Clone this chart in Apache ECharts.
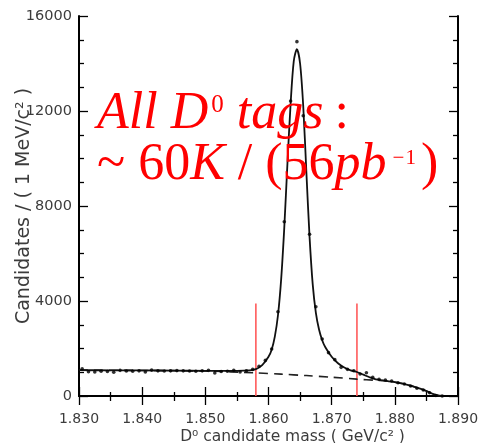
<!DOCTYPE html>
<html>
<head>
<meta charset="utf-8">
<script src="https://cdn.jsdelivr.net/npm/echarts@6/dist/echarts.min.js"></script>
<style>
html,body{margin:0;padding:0;background:#fff;}
#chart{width:481px;height:443px;}
</style>
</head>
<body>
<div id="chart"></div>
<script>
// ---- data ----
var massBins = [1.8305,1.8315,1.8325,1.8335,1.8345,1.8355,1.8365,1.8375,1.8385,1.8395,
                1.8405,1.8415,1.8425,1.8435,1.8445,1.8455,1.8465,1.8475,1.8485,1.8495,
                1.8505,1.8515,1.8525,1.8535,1.8545,1.8555,1.8565,1.8575,1.8585,1.8595,
                1.8605,1.8615,1.8625,1.8635,1.8645,1.8655,1.8665,1.8675,1.8685,1.8695,
                1.8705,1.8715,1.8725,1.8735,1.8745,1.8755,1.8765,1.8775,1.8785,1.8795,
                1.8805,1.8815,1.8825,1.8835,1.8845,1.8855,1.8865,1.8875];
var candidates = [1150,1020,1010,1040,1030,1000,1080,1050,1040,1060,
                  1010,1090,1060,1050,1060,1070,1060,1050,1040,1060,
                  1080,970,1030,1040,1080,1010,1060,1120,1250,1500,
                  1980,3550,7340,12420,14920,11800,6810,3760,2400,1825,
                  1530,1207,1123,1066,926,982,786,703,674,632,
                  561,505,421,324,253,139,20,0];

var fitMass = [1.830,1.835,1.840,1.845,1.850,1.855,1.857,1.858,1.859,1.860,
               1.8605,1.861,1.8615,1.862,1.8625,1.863,1.8635,1.864,1.8645,1.865,
               1.8655,1.866,1.8665,1.867,1.8675,1.868,1.8685,1.869,1.870,1.871,
               1.872,1.873,1.874,1.875,1.876,1.877,1.878,1.880,1.882,1.884,
               1.885,1.886,1.8868,1.8875];
var fitValues = [1090,1080,1075,1070,1060,1060,1080,1130,1300,1650,
                 1950,2500,3400,4900,7100,9800,12300,14100,14600,14000,
                 12200,9400,6700,4700,3500,2800,2350,2050,1650,1380,
                 1200,1080,1010,900,790,700,660,580,470,310,
                 210,90,25,0];

var bkgMass = [1.830,1.840,1.850,1.858,1.862,1.866,1.870,1.874,1.877,1.878,1.880,1.882,1.884,1.885,1.886,1.8868,1.8875];
var bkgValues = [1090,1075,1050,975,920,860,790,710,660,650,580,470,310,210,90,25,0];

var cutMass = [1.858, 1.874];
var cutTop = 3900;

var xTickLabels = ['1.830','1.840','1.850','1.860','1.870','1.880','1.890'];
var yTickLabels = ['0','4000','8000','12000','16000'];

// ---- build ----
function pairs(xs, ys){ return xs.map(function(x,i){ return [x, ys[i]]; }); }
var cutLines = [];
cutMass.forEach(function(m){ cutLines.push([m,0]); cutLines.push([m,cutTop]); cutLines.push(null); });

var axisFont = 'DejaVu Sans';
var textCol = '#3c3c3c';
var red = '#ff0000';

var chart = echarts.init(document.getElementById('chart'), null, {renderer:'canvas'});
chart.setOption({
  animation:false,
  backgroundColor:'#ffffff',
  grid:{left:79,right:23,top:16,bottom:47,containLabel:false,outerBoundsMode:'none'},
  xAxis:[{
    type:'value', min:1.83, max:1.89, interval:0.01,
    position:'bottom',
    axisLine:{show:true,lineStyle:{color:'#000',width:2}},
    axisTick:{show:true,inside:true,length:9,lineStyle:{color:'#000',width:1.3}},
    minorTick:{show:true,splitNumber:2,length:4,lineStyle:{color:'#000',width:1.3}},
    splitLine:{show:false},
    axisLabel:{fontFamily:axisFont,fontSize:14,color:textCol,margin:16,
      formatter:function(v){ var s=v.toFixed(3); return xTickLabels.indexOf(s)>=0?s:''; }},
    name:'D\u2070 candidate mass ( GeV/c\u00B2 )',
    nameLocation:'middle', nameGap:33, nameMoveOverlap:false,
    nameTextStyle:{fontFamily:axisFont,fontSize:15.5,color:textCol,padding:[0,0,0,48]}
  },{
    type:'value', min:1.83, max:1.89, interval:0.01,
    position:'top',
    axisLine:{show:true,lineStyle:{color:'#000',width:2}},
    axisTick:{show:true,inside:true,length:9,lineStyle:{color:'#000',width:1.3}},
    minorTick:{show:true,splitNumber:2,length:5,lineStyle:{color:'#000',width:1.3}},
    splitLine:{show:false},
    axisLabel:{show:false}
  }],
  yAxis:[{
    type:'value', min:0, max:16000, interval:4000,
    position:'left',
    axisLine:{show:true,lineStyle:{color:'#000',width:2}},
    axisTick:{show:true,inside:true,length:9,lineStyle:{color:'#000',width:1.3}},
    minorTick:{show:true,splitNumber:4,length:5,lineStyle:{color:'#000',width:1.3}},
    splitLine:{show:false},
    axisLabel:{fontFamily:axisFont,fontSize:14.5,color:textCol,margin:7,
      formatter:function(v){ var s=String(Math.round(v)); return yTickLabels.indexOf(s)>=0?s:''; }},
    name:'Candidates / ( 1 MeV/c\u00B2 )',
    nameLocation:'middle', nameGap:45, nameRotate:90, nameMoveOverlap:false,
    nameTextStyle:{fontFamily:axisFont,fontSize:19,color:textCol}
  },{
    type:'value', min:0, max:16000, interval:4000,
    position:'right',
    axisLine:{show:true,lineStyle:{color:'#000',width:2}},
    axisTick:{show:true,inside:true,length:9,lineStyle:{color:'#000',width:1.3}},
    minorTick:{show:true,splitNumber:4,length:5,lineStyle:{color:'#000',width:1.3}},
    splitLine:{show:false},
    axisLabel:{show:false}
  }],
  series:[
    {type:'line', name:'background', data:pairs(bkgMass,bkgValues), showSymbol:false, smooth:0.3,
     lineStyle:{color:'#222',width:1.6,type:[9,6]}, z:3},
    {type:'line', name:'fit', data:pairs(fitMass,fitValues), showSymbol:false, smooth:0.3,
     lineStyle:{color:'#111',width:1.8}, z:4},
    {type:'scatter', name:'data', data:pairs(massBins,candidates), symbol:'circle', symbolSize:3.6,
     itemStyle:{color:'#000'}, z:5},
    {type:'line', name:'cuts', data:cutLines, showSymbol:false, connectNulls:false,
     lineStyle:{color:'#ff5a5a',width:1.6}, z:2}
  ],
  graphic:[{
    type:'text', left:97, top:88.7, z:100,
    style:{
      text:'{i|All D}{s0|0}{i| tags}{c|:}\n{n|~ 60}{i|K}{n| / (56}{i|pb}{sm|\u2212}{s1|1}{n|)}',
      rich:{
        i:{fontFamily:'Liberation Serif',fontStyle:'italic',fontSize:52,lineHeight:51,fill:red,verticalAlign:'bottom'},
        n:{fontFamily:'Liberation Serif',fontSize:52,lineHeight:51,fill:red,verticalAlign:'bottom'},
        c:{fontFamily:'Liberation Serif',fontSize:52,lineHeight:51,fill:red,verticalAlign:'bottom',padding:[0,0,0,11]},
        s0:{fontFamily:'Liberation Serif',fontSize:25,fill:red,verticalAlign:'top',padding:[3,0,0,3]},
        sm:{fontFamily:'Liberation Serif',fontSize:21,fill:red,verticalAlign:'top',padding:[7,1,0,6]},
        s1:{fontFamily:'Liberation Serif',fontSize:21,fill:red,verticalAlign:'top',padding:[7,5,0,0]}
      }
    }
  }]
});
</script>
</body>
</html>
